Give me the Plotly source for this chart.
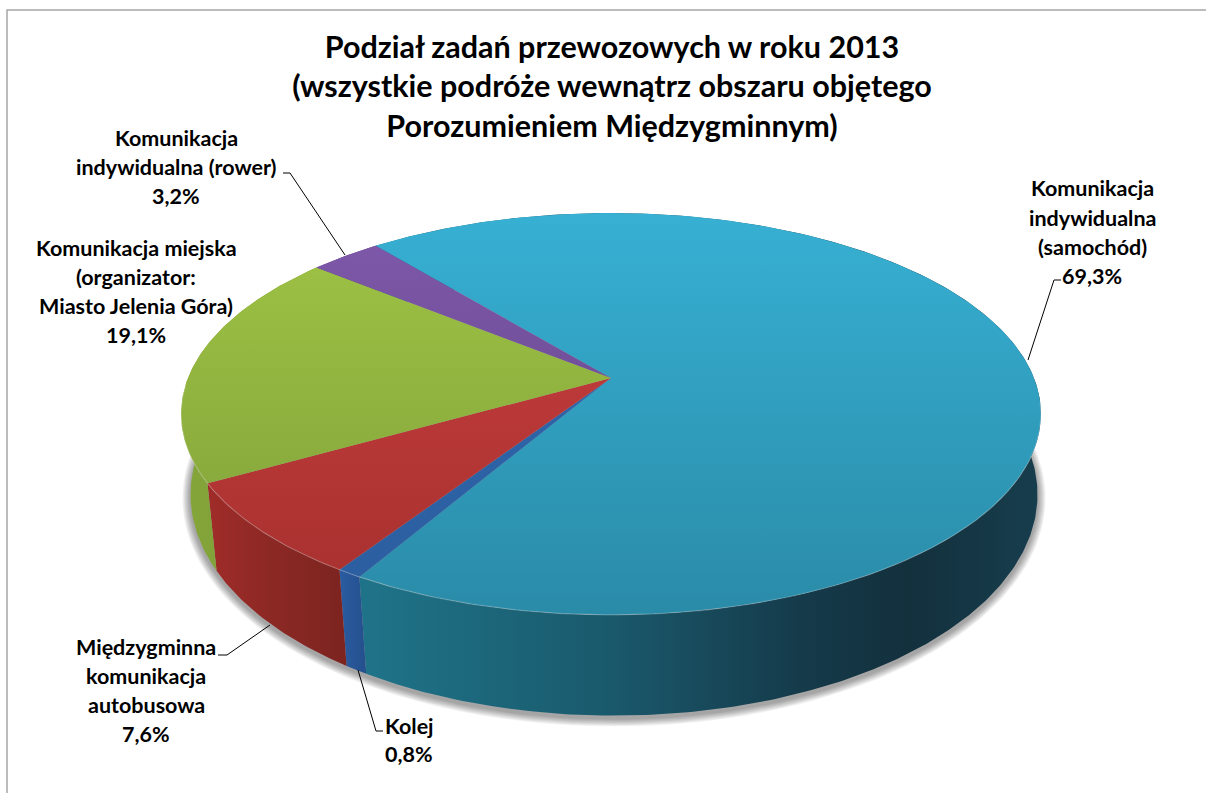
import numpy as np
import plotly.graph_objects as go

# ---- data ----
categories = ["Komunikacja indywidualna (samochód)", "Kolej", "Międzygminna komunikacja autobusowa",
              "Komunikacja miejska (organizator: Miasto Jelenia Góra)", "Komunikacja indywidualna (rower)"]
values = [69.3, 0.8, 7.6, 19.1, 3.2]
title_lines = ["Podział zadań przewozowych w roku 2013",
               "(wszystkie podróże wewnątrz obszaru objętego",
               "Porozumieniem Międzygminnym)"]
label_lines = [["Komunikacja", "indywidualna", "(samochód)", "69,3%"],
               ["Kolej", "0,8%"],
               ["Międzygminna", "komunikacja", "autobusowa", "7,6%"],
               ["Komunikacja miejska", "(organizator:", "Miasto Jelenia Góra)", "19,1%"],
               ["Komunikacja", "indywidualna (rower)", "3,2%"]]

# ---- style / layout ----
W, H = 1206, 793
top_grad = [("#37B0D3", "#2A8BA8"), ("#3068B0", "#2B5E9F"), ("#CC4040", "#A5302E"),
            ("#A0C545", "#7E9E39"), ("#8059AC", "#5C4280")]
side_grad = [[(0, "#1F7388"), (0.35, "#1A5A6D"), (0.65, "#153A4A"), (0.8, "#13303D"), (1, "#173E4D")],
             [(0, "#2A5CA2"), (1, "#254F8C")],
             [(0, "#A02C29"), (0.5, "#8A2824"), (1, "#7C2420")],
             [(0, "#85A63A"), (1, "#789835")],
             [(0, "#6A4A90"), (1, "#5C4280")]]
label_pos = [(1092, [188, 218, 247, 276]), (409, [726, 754]), (146, [647, 676, 705, 734]),
             (136, [248, 277, 306, 335]), (176, [138, 167, 196])]
leaders = [[(1061, 280), (1054, 280), (1028, 360)],
           [(383, 731), (376, 731), (358, 670)],
           [(218, 655), (227, 655), (270, 625)],
           [(283, 173), (290, 173), (345, 255)]]
START = 320.7           # clockwise from 12 o'clock, degrees
CX, CY, A, B, P = 611, 378, 423, 194.5, 0.179
DX, SX, SY, DY = 3, 0.985, 1.10, 77
FONT = "Lato"


def top(t):
    r = np.radians(t)
    x, y = np.sin(r), np.cos(r)
    w = 1 + P * y
    return CX + A * x / w, CY - B * y / w


def bottom(t):
    r = np.radians(t)
    x, y = np.sin(r), np.cos(r)
    w = 1 + P * y
    return CX + DX + SX * A * x / w, CY + DY - SY * B * y / w


def grad(kind, stops, start, stop):
    return dict(type=kind, colorscale=stops, start=start, stop=stop)


fig = go.Figure()
fr = np.cumsum([0] + values) / sum(values) * 360 + START
arcs = [np.linspace(fr[i], fr[i + 1], max(int(values[i] * 6), 12)) for i in range(len(values))]
base = dict(mode="lines", hoverinfo="skip", showlegend=False)

# soft shadow
full = np.linspace(0, 360, 241)
for i in range(8):
    bx, by = bottom(full)
    k = 1 + 0.0024 * (i + 1)
    fig.add_trace(go.Scatter(x=CX + DX + (bx - CX - DX) * k, y=(by - 470) * (1 + 0.004 * (i + 1)) + 470 + 3,
                             fill="toself", fillcolor="rgba(0,0,0,0.05)", line=dict(width=0), **base))

# side walls
for i, a in enumerate(arcs):
    tx, ty = top(a)
    bx, by = bottom(a[::-1])
    xs = np.r_[tx, bx, tx[0]]
    ys = np.r_[ty, by, ty[0]]
    x0, x1 = (366, 1042) if i == 0 else (xs.min(), xs.max())
    stops = side_grad[i]
    fig.add_trace(go.Scatter(x=xs, y=ys, fill="toself", line=dict(width=0),
                             fillgradient=grad("horizontal", stops, x0, x1), **base))

# top faces
for i, a in enumerate(arcs):
    tx, ty = top(a)
    xs = np.r_[CX, tx, CX]
    ys = np.r_[CY, ty, CY]
    c0, c1 = top_grad[i]
    fig.add_trace(go.Scatter(x=xs, y=ys, fill="toself", line=dict(width=0),
                             fillgradient=grad("vertical", [(0, c0), (1, c1)], 213, 615), **base))

# light rim on the front edge
rim = np.linspace(97, 268, 200)
rx, ry = top(rim)
fig.add_trace(go.Scatter(x=rx, y=ry, line=dict(width=1.2, color="rgba(255,255,255,0.22)"), **base))

# leader lines
for pts in leaders:
    fig.add_trace(go.Scatter(x=[p[0] for p in pts], y=[p[1] for p in pts],
                             line=dict(width=1, color="#000000"), **base))

ann = []
for (cx, ys), lines in zip(label_pos, label_lines):
    for y, s in zip(ys, lines):
        ann.append(dict(x=cx, y=y, text=s, showarrow=False, xref="x", yref="y",
                        xanchor="center", yanchor="middle",
                        font=dict(family=FONT, size=21.5, color="#000000", weight="bold")))

fig.update_layout(
    width=W, height=H, margin=dict(l=0, r=0, t=0, b=0), autosize=False,
    paper_bgcolor="white", plot_bgcolor="white", showlegend=False,
    xaxis=dict(range=[0, W], visible=False, fixedrange=True),
    yaxis=dict(range=[H, 0], visible=False, fixedrange=True),
    title=dict(text="<br>".join(title_lines), x=(603 + 9) / W, xanchor="center", xref="paper",
               y=1 - 57.5 / H, yanchor="top", yref="paper",
               font=dict(family=FONT, size=30.5, color="#000000", weight="bold")),
    annotations=ann,
    shapes=[dict(type="path", path=f"M 7 {H} L 7 10 L {W} 10", line=dict(color="#A6A6A6", width=1.5))],
)
fig.write_html("out.html", config=dict(displayModeBar=False),
               post_script="document.body.style.margin='0';document.body.style.overflow='hidden';")
